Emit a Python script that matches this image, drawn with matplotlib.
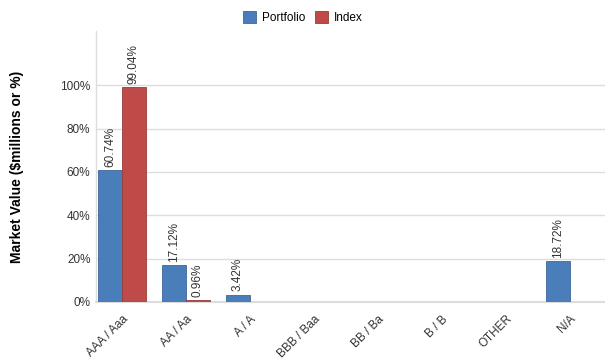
import numpy as np
import matplotlib.pyplot as plt

plt.rcParams['font.family'] = ['Liberation Sans', 'DejaVu Sans']

categories = ['AAA / Aaa', 'AA / Aa', 'A / A', 'BBB / Baa', 'BB / Ba', 'B / B', 'OTHER', 'N/A']
portfolio = [60.74, 17.12, 3.42, 0, 0, 0, 0, 18.72]
index = [99.04, 0.96, 0, 0, 0, 0, 0, 0]
yticks = [0, 20, 40, 60, 80, 100]

fig = plt.figure(figsize=(6.05, 3.63), dpi=100)
ax = fig.add_axes([96 / 605, 1 - 302 / 363, 509 / 605, 271 / 363])

x = np.arange(len(categories))
w = 0.375
b1 = ax.bar(x - w / 2, portfolio, w, color='#4a7ebb', edgecolor='#3c6797', linewidth=0.6,
            label='Portfolio', zorder=3)
b2 = ax.bar(x + w / 2, index, w, color='#be4b48', edgecolor='#9b3b39', linewidth=0.6,
            label='Index', zorder=3)

for bars, vals in ((b1, portfolio), (b2, index)):
    for r, v in zip(bars, vals):
        if v > 0:
            ax.text(r.get_x() + r.get_width() / 2, v + 1.5, f'{v:.2f}%', rotation=90,
                    ha='center', va='bottom', fontsize=8.5, color='#333333')

ax.set_xlim(-0.406, 7.55)
ax.set_ylim(0, 125)
ax.set_yticks(yticks)
ax.set_yticklabels([f'{t}%' for t in yticks], fontsize=8.5, color='#333333')
ax.set_xticks(x)
ax.set_xticklabels(categories, rotation=45, ha='right', rotation_mode='anchor',
                   fontsize=8.5, color='#333333')
ax.tick_params(length=0, pad=4)
ax.tick_params(axis='x', pad=8)
ax.grid(axis='y', color='#dddddd', linewidth=1, zorder=0)
for s in ['top', 'right']:
    ax.spines[s].set_visible(False)
ax.spines['left'].set_color('#dddddd')
ax.spines['bottom'].set_color('#dddddd')
ax.spines['left'].set_linewidth(1)
ax.spines['bottom'].set_linewidth(1.5)

ax.set_ylabel('Market Value ($millions or %)', fontsize=10, fontweight='bold', labelpad=26)

fig.legend(loc='upper center', bbox_to_anchor=(0.5, 1.0), ncol=2, frameon=False,
           fontsize=8.5, handlelength=1.1, handleheight=1.3, handletextpad=0.5,
           columnspacing=0.8)

fig.savefig('out.png', dpi=100)
